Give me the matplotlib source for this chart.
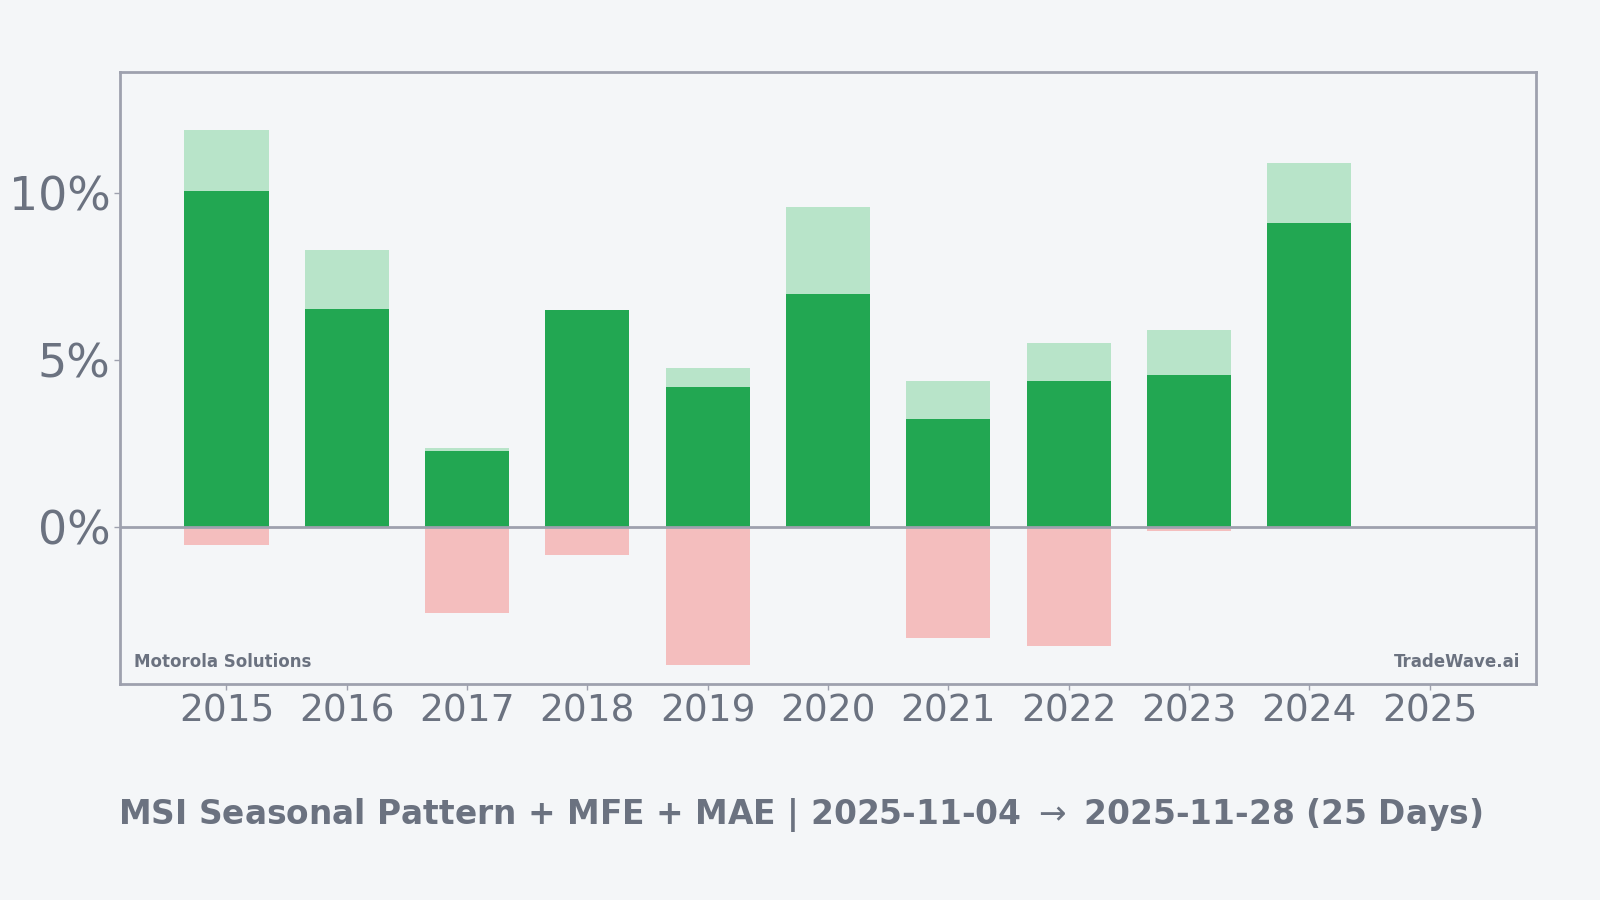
import matplotlib
matplotlib.use("Agg")
import matplotlib.pyplot as plt
from matplotlib.ticker import FuncFormatter

years = ["2015", "2016", "2017", "2018", "2019", "2020", "2021", "2022", "2023", "2024", "2025"]
returns = [10.06, 6.53, 2.28, 6.49, 4.19, 6.99, 3.24, 4.38, 4.56, 9.11, 0.0]
mfe = [11.90, 8.31, 2.36, 6.49, 4.77, 9.60, 4.38, 5.52, 5.91, 10.89, 0.0]
mae = [-0.52, 0.0, -2.56, -0.82, -4.11, 0.0, -3.30, -3.54, -0.12, 0.0, 0.0]

BG = "#f4f6f8"
TEXT = "#6b7280"
SPINE = "#9ea1ae"
GREEN = "#22a752"
LIGHT_GREEN = "#b8e4c9"
PINK = "#f4bebe"

fig = plt.figure(figsize=(16, 9), dpi=100, facecolor=BG)
ax = fig.add_axes([0.075, 0.24, 0.8853, 0.6797], facecolor=BG)

x = list(range(len(years)))
w = 0.7
ax.bar(x, mfe, width=w, color=LIGHT_GREEN, zorder=2)
ax.bar(x, returns, width=w, color=GREEN, zorder=3)
ax.bar(x, mae, width=w, color=PINK, zorder=2)
ax.axhline(0, color=SPINE, linewidth=2, zorder=4)

ax.set_xlim(-0.885, 10.889)
ax.set_ylim(-4.69, 13.62)
ax.set_xticks(x)
ax.set_xticklabels(years)
ax.set_yticks([0, 5, 10])
ax.yaxis.set_major_formatter(FuncFormatter(lambda v, p: f"{v:.0f}%"))
ax.tick_params(axis="x", labelsize=27, colors=SPINE, labelcolor=TEXT, length=4, width=1, pad=3)
ax.tick_params(axis="y", labelsize=33, colors=SPINE, labelcolor=TEXT, length=4, width=1, pad=3)
for s in ax.spines.values():
    s.set_color(SPINE)
    s.set_linewidth(2)

ax.annotate("Motorola Solutions", xy=(0, 0), xycoords="axes fraction",
            xytext=(10, 12), textcoords="offset points",
            fontsize=12, fontweight="bold", color=TEXT, ha="left", va="baseline")
ax.annotate("TradeWave.ai", xy=(1, 0), xycoords="axes fraction",
            xytext=(-11.5, 12), textcoords="offset points",
            fontsize=12, fontweight="bold", color=TEXT, ha="right", va="baseline")

fig.text(0.5, 0.095, "MSI Seasonal Pattern + MFE + MAE | 2025-11-04 $\\rightarrow$ 2025-11-28 (25 Days)",
         ha="center", va="center", fontsize=23.7, fontweight="bold", color=TEXT)

fig.savefig("out.png", dpi=100, facecolor=BG)
